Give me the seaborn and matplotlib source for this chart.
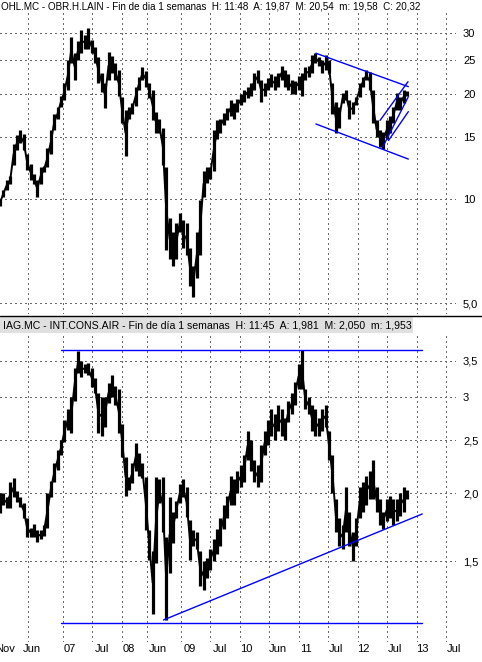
import matplotlib
matplotlib.use("Agg")
import matplotlib.pyplot as plt
import matplotlib.dates as mdates
from matplotlib.lines import Line2D
from matplotlib.patches import Rectangle
import matplotlib.transforms as mtransforms
import seaborn as sns
import pandas as pd
import numpy as np

# ---------------- data (3-week bars) ----------------
bar_start = "2005-12-06"
bar_step = "21D"

ohl_low = [9.5,10.1,10.6,11.0,12.5,13.8,14.5,13.8,12.1,11.3,
           11.0,10.1,11.0,11.9,12.3,13.4,15.8,16.9,18.3,19.2,
           20.5,24.5,21.9,25.0,26.3,27.0,27.0,26.3,24.6,21.5,
           20.3,18.2,22.0,23.0,22.0,19.8,16.5,13.3,16.9,17.5,
           18.5,20.5,22.0,21.0,19.5,16.8,15.4,15.4,12.5,7.1,
           6.7,6.4,6.7,8.0,7.2,6.9,5.6,5.2,5.9,6.9,
           10.1,11.1,11.4,12.0,14.8,15.5,16.3,16.8,17.3,17.0,
           17.8,18.6,19.0,19.5,19.8,20.5,21.5,19.0,19.8,20.5,
           21.0,20.5,21.0,22.0,21.0,20.5,20.0,20.0,20.5,19.8,
           22.0,22.4,23.0,24.5,24.0,23.0,23.4,23.0,17.5,15.4,
           16.0,18.9,19.2,16.9,17.5,18.6,19.6,21.0,21.9,20.5,
           16.5,15.0,14.1,13.9,14.8,15.5,16.5,18.0,18.0,18.8,19.8]
ohl_high = [10.0,10.6,11.3,11.6,14.4,15.2,15.8,15.3,13.4,12.6,
            11.8,11.3,12.3,12.4,14.0,15.8,17.5,18.3,19.8,21.5,
            25.0,29.2,26.3,28.5,30.5,29.5,31.0,28.6,27.3,25.5,
            23.0,21.5,26.4,25.8,24.5,23.4,19.6,18.0,18.3,18.9,
            21.0,22.4,23.9,23.3,21.5,20.5,17.8,16.9,16.0,12.3,
            8.8,8.0,8.5,9.1,8.7,8.5,7.2,6.4,8.0,9.9,
            12.0,12.3,12.3,15.8,16.8,17.0,17.6,18.2,19.2,18.8,
            19.4,20.0,20.5,21.0,21.5,23.0,23.5,22.0,21.5,22.3,
            22.8,22.5,23.0,24.0,23.5,22.8,22.0,21.8,22.5,23.0,
            23.9,24.0,25.9,26.3,25.5,25.0,25.9,25.0,21.5,19.0,
            18.3,20.1,20.5,19.2,19.0,19.6,21.5,22.4,23.4,23.2,
            20.5,16.8,15.8,15.6,16.8,17.3,18.3,20.1,19.6,20.5,20.4]

iag_low = [1.84,1.90,1.88,1.88,1.97,1.93,1.89,1.80,1.66,1.66,
           1.66,1.63,1.65,1.67,1.73,1.97,2.10,2.21,2.35,2.48,
           2.61,2.58,2.95,3.32,3.26,3.32,3.30,3.13,3.05,2.58,
           2.55,2.65,2.93,3.00,2.90,2.58,2.33,1.98,2.03,2.09,
           2.20,2.15,2.13,1.71,1.51,1.20,1.49,1.92,1.70,1.17,
           1.43,1.62,1.80,1.92,1.97,1.81,1.51,1.60,1.58,1.35,
           1.33,1.40,1.45,1.50,1.55,1.60,1.72,1.80,1.90,1.90,
           2.00,2.05,2.10,2.30,2.20,2.10,2.05,2.10,2.35,2.45,
           2.55,2.50,2.60,2.55,2.50,2.70,2.80,2.90,3.10,3.10,
           2.85,2.80,2.60,2.55,2.55,2.60,2.65,2.30,2.00,1.70,
           1.60,1.58,1.70,1.60,1.50,1.60,1.80,1.85,1.90,1.95,
           1.95,1.85,1.75,1.72,1.78,1.80,1.75,1.78,1.82,1.85,1.95]
iag_high = [2.00,2.00,1.97,2.10,2.13,2.02,1.97,1.92,1.80,1.73,
            1.76,1.71,1.71,1.75,2.00,2.11,2.27,2.40,2.50,2.72,
            2.85,3.00,3.40,3.64,3.50,3.45,3.47,3.40,3.25,3.05,
            3.00,3.00,3.18,3.29,3.15,3.10,2.68,2.33,2.14,2.27,
            2.47,2.37,2.27,2.14,1.71,1.57,2.14,2.12,2.14,1.66,
            1.97,1.85,1.94,2.08,2.12,2.05,1.79,1.71,1.70,1.57,
            1.50,1.52,1.58,1.65,1.72,1.80,1.90,1.98,2.15,2.12,
            2.20,2.25,2.35,2.60,2.50,2.30,2.25,2.45,2.60,2.72,
            2.85,2.80,2.90,2.85,2.75,2.95,3.05,3.20,3.45,3.66,
            3.10,3.00,2.90,2.85,2.75,2.85,2.90,2.60,2.35,1.95,
            1.80,1.75,2.05,1.85,1.70,1.80,2.05,2.10,2.15,2.20,
            2.30,2.05,1.95,1.85,1.95,1.98,1.95,1.95,2.00,2.05,2.03]

# trend lines: (start date, end date, start price, end price)
ohl_lines = [("2011-04-15", "2012-11-07", 26.2, 21.0),
             ("2011-04-15", "2012-11-07", 16.4, 13.0),
             ("2012-05-16", "2012-11-05", 16.8, 21.7),
             ("2012-06-02", "2012-11-07", 14.1, 19.65),
             ("2012-07-07", "2012-11-07", 14.7, 17.8)]
iag_lines = [("2006-12-18", "2013-02-01", 3.66, 3.66),
             ("2006-12-18", "2013-02-01", 1.157, 1.157),
             ("2008-09-13", "2013-02-01", 1.172, 1.833)]

ohl_ticks = [5, 10, 15, 20, 25, 30]
ohl_ticklabels = ["5,0", "10", "15", "20", "25", "30"]
iag_ticks = [1.5, 2.0, 2.5, 3.0, 3.5]
iag_ticklabels = ["1,5", "2,0", "2,5", "3", "3,5"]

grid_dates = ["2006-05-29", "2007-01-01", "2007-06-29", "2008-01-01", "2008-06-04",
              "2009-01-01", "2009-06-28", "2010-01-01", "2010-06-28", "2011-01-01",
              "2011-06-29", "2012-01-01", "2012-06-29", "2013-01-01", "2013-06-28"]
label_dates = ["2005-11-05", "2006-04-27", "2007-01-01", "2007-07-18", "2008-01-07",
               "2008-06-11", "2009-01-13", "2009-07-15", "2010-01-01", "2010-06-30",
               "2011-01-07", "2011-07-02", "2011-12-27", "2012-07-01", "2012-12-25",
               "2013-07-04"]
label_texts = ["Nov", "Jun", "07", "Jul", "08", "Jun", "09", "Jul", "10", "Jun",
               "11", "Jul", "12", "Jul", "13", "Jul"]

title_top = "OHL.MC - OBR.H.LAIN - Fin de dia 1 semanas  H: 11:48  A: 19,87  M: 20,54  m: 19,58  C: 20,32"
title_bot = "IAG.MC - INT.CONS.AIR - Fin de día 1 semanas  H: 11:45  A: 1,981  M: 2,050  m: 1,953"

# ---------------- figure ----------------
sns.set_theme(style="white")
plt.rcParams['font.family'] = ['Liberation Sans', 'DejaVu Sans']
plt.rcParams['axes.facecolor'] = 'white'
plt.rcParams['lines.scale_dashes'] = False

W, H = 482, 662
fig = plt.figure(figsize=(W / 100, H / 100), dpi=100)
fig.patch.set_facecolor('white')

def fy(px):
    return 1 - px / H

ax1 = fig.add_axes([0, fy(314), 456 / W, (314 - 13) / H])
ax2 = fig.add_axes([0, fy(642), 456 / W, (642 - 333) / H])

xlim = (pd.Timestamp("2005-12-06"), pd.Timestamp("2013-08-29"))
grid_kw = dict(color="#6a6a6a", linestyle=(0, (0.8, 2.2)), lw=1.0, zorder=1.5,
               antialiased=False)

def draw_panel(ax, low, high, lines, ticks, ticklabels, ylim):
    dates = pd.date_range(bar_start, periods=len(low), freq=bar_step)
    df = pd.DataFrame({"date": dates, "low": low, "high": high})
    df["mid"] = np.sqrt(df["low"] * df["high"])
    ax.vlines(df["date"], df["low"], df["high"], color="black", lw=2.3, zorder=2)
    sns.lineplot(data=df, x="date", y="mid", ax=ax, color="black", lw=1.4, zorder=2)
    for d0, d1, p0, p1 in lines:
        ax.plot([pd.Timestamp(d0), pd.Timestamp(d1)], [p0, p1], color="#0000ff",
                lw=1.0, zorder=3)
    ax.set_yscale("log")
    ax.set_ylim(*ylim)
    ax.set_xlim(*xlim)
    ax.yaxis.set_major_locator(matplotlib.ticker.FixedLocator(ticks))
    ax.yaxis.set_minor_locator(matplotlib.ticker.NullLocator())
    ax.set_yticklabels(ticklabels)
    ax.yaxis.tick_right()
    ax.tick_params(axis="y", length=0, pad=5, labelsize=8, labelcolor="black")
    ax.set_xticks([])
    ax.set_xlabel("")
    ax.set_ylabel("")
    ax.grid(False)
    for t in ticks:
        ax.axhline(t, **grid_kw)
    for d in grid_dates:
        ax.axvline(pd.Timestamp(d), **grid_kw)
    for s in ax.spines.values():
        s.set_visible(False)

draw_panel(ax1, ohl_low, ohl_high, ohl_lines, ohl_ticks, ohl_ticklabels, (4.66, 34.2))
draw_panel(ax2, iag_low, iag_high, iag_lines, iag_ticks, iag_ticklabels, (1.068, 3.933))

trans = mtransforms.blended_transform_factory(ax2.transData, ax2.transAxes)
for d, txt in zip(label_dates, label_texts):
    ax2.text(pd.Timestamp(d), -0.008, txt, transform=trans, ha="left", va="top",
             fontsize=8, color="black", clip_on=False)

# titles and separators
fig.text(1 / W, fy(6.5), title_top, fontsize=7.1, va="center", ha="left", color="black")
fig.patches.append(Rectangle((0, fy(333)), 413 / W, 16.5 / H, transform=fig.transFigure,
                             facecolor="#e0e0e0", edgecolor="none", zorder=0))
fig.add_artist(Line2D([0, 1], [fy(316), fy(316)], transform=fig.transFigure,
                      color="black", lw=1.0))
fig.text(3 / W, fy(325), title_bot, fontsize=7.6, va="center", ha="left", color="black")

fig.savefig("out.png", dpi=100, facecolor="white")
